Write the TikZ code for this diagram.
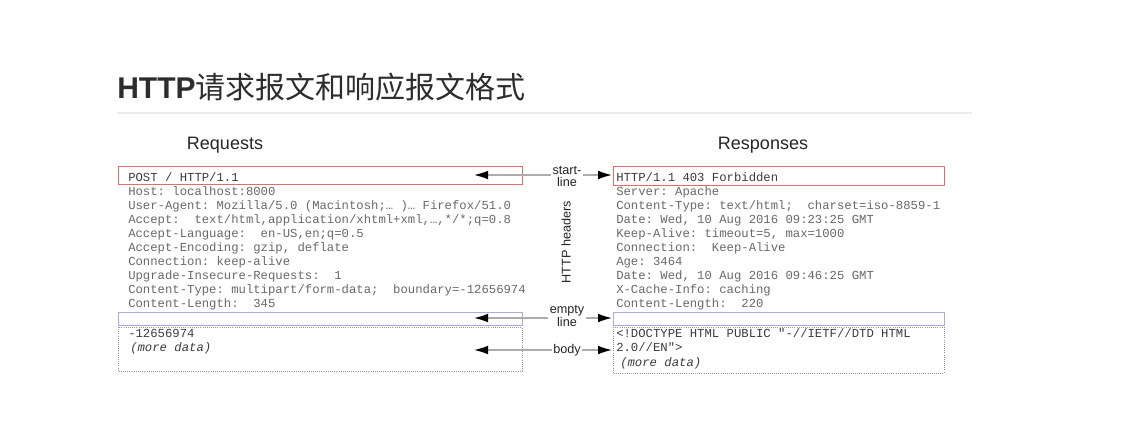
\documentclass[tikz,border=0pt]{standalone}
\usepackage{fontspec}
\setmainfont{Liberation Sans}
\setmonofont{Liberation Mono}
\newfontfamily\cjk{Noto Sans CJK SC}
\usetikzlibrary{arrows.meta}
\definecolor{codegray}{RGB}{105,105,105}
\definecolor{codedark}{RGB}{60,60,60}
\definecolor{boxred}{RGB}{222,110,110}
\definecolor{boxblue}{RGB}{170,170,232}
\definecolor{titlegray}{RGB}{45,45,45}
\tikzset{
  mono/.style={anchor=base west, inner sep=0pt, font=\ttfamily\fontsize{9.2}{11}\selectfont, text=codegray},
  lbl/.style={align=center, inner sep=1pt, font=\fontsize{9.5}{9.2}\selectfont, text=black!85},
  conn/.style={draw=gray!65, line width=1pt, -{Latex[black,length=10.5pt,width=6.5pt]}},
  redbox/.style={draw=boxred, line width=0.7pt},
  bluebox/.style={draw=boxblue, line width=0.7pt},
  dotbox/.style={draw=gray!80, densely dotted, line width=0.6pt},
  heading/.style={font=\fontsize{13.5}{14}\selectfont, text=black!85}
}
\begin{document}
\begin{tikzpicture}[x=0.75pt,y=-0.75pt]
\useasboundingbox[fill=white] (0,0) rectangle (1137,446);
% title
\node[anchor=base west, inner sep=0pt, text=titlegray] (title) at (117,98)
  {\fontsize{22.5}{24}\selectfont\bfseries HTTP\cjk\mdseries 请求报文和响应报文格式};
\draw[gray!15, line width=0.8pt] (117,113) -- (972,113);
% headings
\node[heading] (req) at (225,145) {Requests};
\node[heading] (resp) at (763,145) {Responses};
% boxes
\draw[redbox] (118,166) rectangle (522,184);
\draw[redbox] (613,166) rectangle (944,185);
\draw[bluebox] (118,312) rectangle (522,325);
\draw[bluebox] (613,312) rectangle (944,325);
\draw[dotbox] (118,327) rectangle (522,371);
\draw[dotbox] (613,327) rectangle (944,373);
% request text
\node[mono, text=codedark] (r0) at (128,181) {POST / HTTP/1.1};
\node[mono] (r1) at (128,195.1) {Host: localhost:8000};
\node[mono] (r2) at (128,209.2) {User-Agent: Mozilla/5.0 (Macintosh;… )… Firefox/51.0};
\node[mono] (r3) at (128,223.3) {Accept:~ text/html,application/xhtml+xml,…,*/*;q=0.8};
\node[mono] (r4) at (128,237.4) {Accept-Language:~ en-US,en;q=0.5};
\node[mono] (r5) at (128,251.5) {Accept-Encoding: gzip, deflate};
\node[mono] (r6) at (128,265.6) {Connection: keep-alive};
\node[mono] (r7) at (128,279.7) {Upgrade-Insecure-Requests:~ 1};
\node[mono] (r8) at (128,293.8) {Content-Type: multipart/form-data;~ boundary=-12656974};
\node[mono] (r9) at (128,307.9) {Content-Length:~ 345};
\node[mono, text=codedark] (rb0) at (128,337) {-12656974};
\node[mono, text=codedark] (rb1) at (130,351.5) {\itshape (more data)};
% response text
\node[mono, text=codedark] (s0) at (616,181) {HTTP/1.1 403 Forbidden};
\node[mono] (s1) at (616,195.1) {Server: Apache};
\node[mono] (s2) at (616,209.2) {Content-Type: text/html;~ charset=iso-8859-1};
\node[mono] (s3) at (616,223.3) {Date: Wed, 10 Aug 2016 09:23:25 GMT};
\node[mono] (s4) at (616,237.4) {Keep-Alive: timeout=5, max=1000};
\node[mono] (s5) at (616,251.5) {Connection:~ Keep-Alive};
\node[mono] (s6) at (616,265.6) {Age: 3464};
\node[mono] (s7) at (616,279.7) {Date: Wed, 10 Aug 2016 09:46:25 GMT};
\node[mono] (s8) at (616,293.8) {X-Cache-Info: caching};
\node[mono] (s9) at (616,307.9) {Content-Length:~ 220};
\node[mono, text=codedark] (sb0) at (616,337) {<!DOCTYPE HTML PUBLIC "-//IETF//DTD HTML};
\node[mono, text=codedark] (sb1) at (616,351.5) {2.0//EN">};
\node[mono, text=codedark] (sb2) at (620,366) {\itshape (more data)};
% middle labels
\node[lbl] (sl) at (567,176.5) {start-\\line};
\node[lbl] (el) at (567,316) {empty\\line};
\node[lbl] (bl) at (567,350) {body};
\node[lbl, rotate=90] (hh) at (566,242) {HTTP headers};
% connector ends
\coordinate (slL) at (474,175);
\coordinate (slR) at (612,175);
\coordinate (elL) at (474,318);
\coordinate (elR) at (612,318);
\coordinate (blL) at (474,350);
\coordinate (blR) at (612,350);
\draw[conn] (sl.west |- slL) -- (slL);
\draw[conn] (sl.east |- slR) -- (slR);
\draw[conn] (el.west |- elL) -- (elL);
\draw[conn] (el.east |- elR) -- (elR);
\draw[conn] (bl.west) -- (blL);
\draw[conn] (bl.east) -- (blR);
\end{tikzpicture}
\end{document}
